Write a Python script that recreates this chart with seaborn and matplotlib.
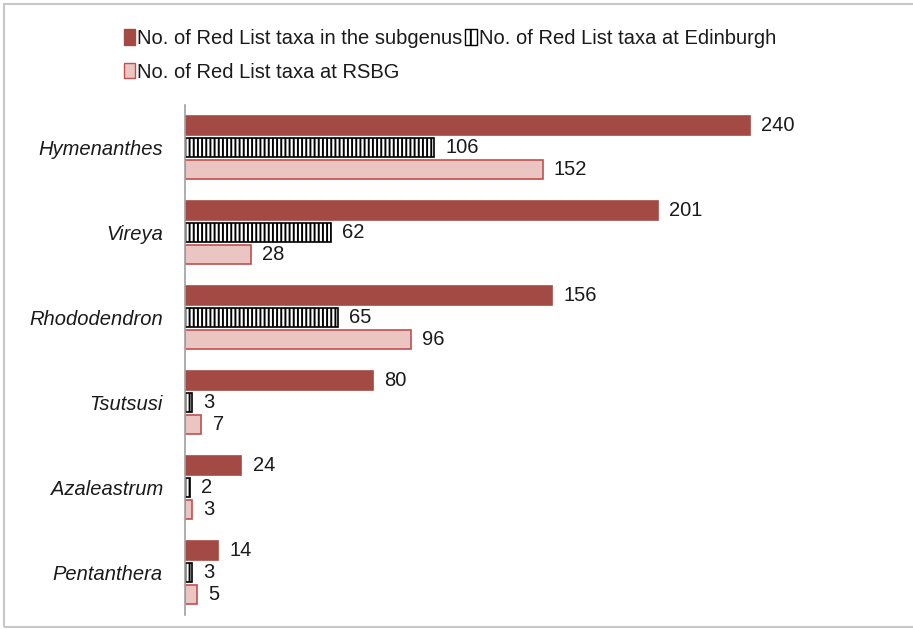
import matplotlib
matplotlib.use("Agg")
import matplotlib.pyplot as plt
from matplotlib.patches import Patch, Rectangle
import seaborn as sns
import pandas as pd

subgenera = ["Hymenanthes", "Vireya", "Rhododendron", "Tsutsusi", "Azaleastrum", "Pentanthera"]
series_names = ["No. of Red List taxa in the subgenus",
                "No. of Red List taxa at Edinburgh",
                "No. of Red List taxa at RSBG"]
subgenus_vals = [240, 201, 156, 80, 24, 14]
edinburgh_vals = [106, 62, 65, 3, 2, 3]
rsbg_vals = [152, 28, 96, 7, 3, 5]

rows = []
for name, vals in zip(series_names, [subgenus_vals, edinburgh_vals, rsbg_vals]):
    for cat, v in zip(subgenera, vals):
        rows.append({"subgenus": cat, "series": name, "value": v})
df = pd.DataFrame(rows)

sns.set_style("white")
plt.rcParams["font.family"] = ["Liberation Sans", "DejaVu Sans"]
plt.rcParams["hatch.linewidth"] = 1.4

FS = 14.5
fills = ["#A44A44", "white", "#EBC5C1"]
edges = ["#A44A44", "black", "#C0504D"]

fig = plt.figure(figsize=(9.13, 6.29), dpi=100)
ax = fig.add_axes([185/913, 1-615/629, (891-185)/913, (615-105)/629])

sns.barplot(data=df, y="subgenus", x="value", hue="series", order=subgenera,
            hue_order=series_names, orient="h", palette=fills, width=0.78, gap=0.15,
            ax=ax, legend=False)

for i, cont in enumerate(ax.containers):
    for p in cont:
        p.set_facecolor(fills[i])
        p.set_edgecolor(edges[i])
        p.set_linewidth(1.2)
        if i == 1:
            p.set_hatch("||||")
    ax.bar_label(cont, padding=8, fontsize=FS, color="#1a1a1a")

ax.set_xlim(0, 300)
ax.set_ylim(5.5, -0.5)
ax.set_xlabel("")
ax.set_ylabel("")
ax.set_xticks([])
ax.tick_params(axis="y", length=0, pad=16, labelsize=FS)
for lbl in ax.get_yticklabels():
    lbl.set_fontstyle("italic")
    lbl.set_color("#1a1a1a")
for s in ["top", "right", "bottom"]:
    ax.spines[s].set_visible(False)
ax.spines["left"].set_color("#A0A0A0")
ax.spines["left"].set_linewidth(1.2)

handles = [Patch(facecolor=fills[i], edgecolor=edges[i], hatch=("||" if i == 1 else None),
                 linewidth=1.0, label=series_names[i]) for i in range(3)]
order = [0, 2, 1]
fig.legend([handles[i] for i in order], [series_names[i] for i in order],
           ncol=2, loc="upper left", bbox_to_anchor=(106/913, 1-11/629),
           frameon=False, fontsize=FS, handlelength=0.55, handleheight=0.8,
           handletextpad=0.1, columnspacing=0.15, labelspacing=0.72,
           labelcolor="#1a1a1a")

fig.patches.append(Rectangle((4/913, 2/629), 1.2, 1-6/629, transform=fig.transFigure,
                             fill=False, edgecolor="#C8C8C8", linewidth=1.5))

fig.savefig("out.png", dpi=100)
